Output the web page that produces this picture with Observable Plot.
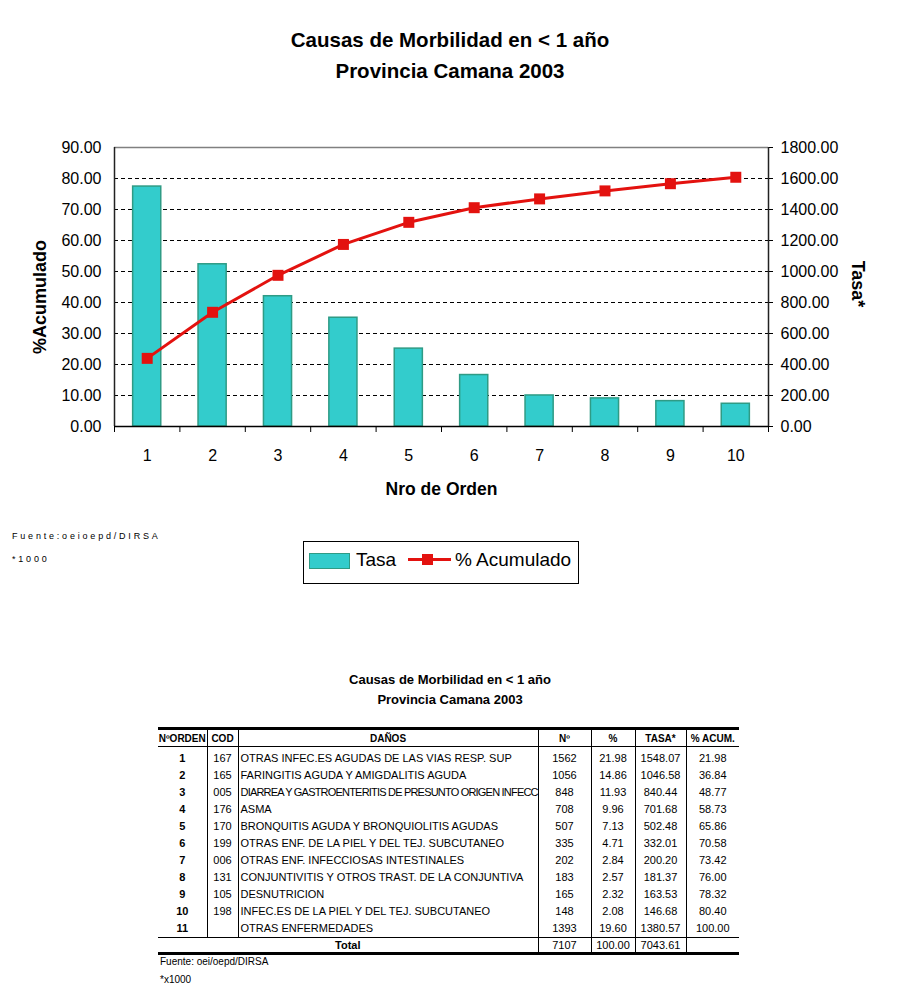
<!DOCTYPE html>
<html>
<head>
<meta charset="utf-8">
<script src="https://cdn.jsdelivr.net/npm/d3@7"></script>
<script src="https://cdn.jsdelivr.net/npm/@observablehq/plot@0.6"></script>
<style>
  html, body { margin: 0; padding: 0; background: #fff; }
  body { position: relative; width: 900px; height: 1000px; font-family: "Liberation Sans", Arial, sans-serif; color: #000; overflow: hidden; }
  .abs { position: absolute; }
  .title { left: 0; width: 900px; text-align: center; font-weight: bold; font-size: 20.5px; line-height: 20px; }
  #chart { left: 0; top: 110px; }
  .note { font-size: 9px; letter-spacing: 2.8px; left: 12px; line-height: 12px; }
  #legend { left: 303px; top: 541px; width: 276px; height: 43px; border: 1px solid #000; box-sizing: border-box; }
  #legend .sw { position: absolute; left: 5px; top: 11px; width: 41px; height: 16px; background: #33CCCC; border: 1.5px solid #2F9B85; box-sizing: border-box; }
  #legend .lbl { position: absolute; top: 7px; font-size: 19px; line-height: 22px; }
  #legend .ln { position: absolute; left: 104px; top: 16px; width: 43px; height: 3px; background: #E3120F; }
  #legend .sq { position: absolute; left: 118px; top: 12px; width: 11px; height: 11px; background: #E3120F; }
  .ttitle { left: 0; width: 900px; text-align: center; font-weight: bold; font-size: 13px; line-height: 16px; }
  #tbl { left: 158px; top: 727px; }
  table { border-collapse: collapse; table-layout: fixed; font-size: 11px; }
  th { font-weight: bold; font-size: 10px; height: 16px; padding: 0; border-top: 3px solid #000; border-bottom: 1px solid #000; text-align: center; }
  td { padding: 0; height: 17px; line-height: 17px; text-align: center; white-space: nowrap; overflow: hidden; }
  th + th, td + td { border-left: 1px solid #000; }
  td.dn { text-align: left; padding-left: 2px; }
  td.ord { font-weight: bold; }
  tr.first td { padding-top: 3px; }
  tr.total td { border-top: 1px solid #000; border-bottom: 3px solid #000; height: 14px; line-height: 14px; }
  tr.total td.tl { font-weight: bold; }
  .src { left: 160px; font-size: 10px; line-height: 12px; }
</style>
</head>
<body>
<div class="abs title" style="top:30px">Causas de Morbilidad en &lt; 1 año</div>
<div class="abs title" style="top:61px">Provincia Camana 2003</div>
<div id="chart" class="abs"></div>
<div class="abs note" style="top:530px">Fuente:oeioepd/DIRSA</div>
<div class="abs note" style="top:553px">*1000</div>
<div id="legend" class="abs">
  <div class="sw"></div>
  <div class="lbl" style="left:52px">Tasa</div>
  <div class="ln"></div>
  <div class="sq"></div>
  <div class="lbl" style="left:151px">% Acumulado</div>
</div>
<div class="abs ttitle" style="top:672px">Causas de Morbilidad en &lt; 1 año</div>
<div class="abs ttitle" style="top:692px">Provincia Camana 2003</div>
<div id="tbl" class="abs"></div>
<div class="abs src" style="top:956px">Fuente: oei/oepd/DIRSA</div>
<div class="abs src" style="top:974px">*x1000</div>
<script>
const orden = [1, 2, 3, 4, 5, 6, 7, 8, 9, 10, 11];
const cod = ["167", "165", "005", "176", "170", "199", "006", "131", "105", "198", ""];
const danos = [
  "OTRAS INFEC.ES AGUDAS DE LAS VIAS RESP. SUP",
  "FARINGITIS AGUDA Y AMIGDALITIS AGUDA",
  "DIARREA Y GASTROENTERITIS DE PRESUNTO ORIGEN INFECC",
  "ASMA",
  "BRONQUITIS AGUDA Y BRONQUIOLITIS AGUDAS",
  "OTRAS ENF. DE LA PIEL Y DEL TEJ. SUBCUTANEO",
  "OTRAS ENF. INFECCIOSAS INTESTINALES",
  "CONJUNTIVITIS Y OTROS TRAST. DE LA CONJUNTIVA",
  "DESNUTRICION",
  "INFEC.ES DE LA PIEL Y DEL TEJ. SUBCUTANEO",
  "OTRAS ENFERMEDADES"
];
const casos = [1562, 1056, 848, 708, 507, 335, 202, 183, 165, 148, 1393];
const pct = ["21.98", "14.86", "11.93", "9.96", "7.13", "4.71", "2.84", "2.57", "2.32", "2.08", "19.60"];
const tasa = [1548.07, 1046.58, 840.44, 701.68, 502.48, 332.01, 200.20, 181.37, 163.53, 146.68, 1380.57];
const acum = [21.98, 36.84, 48.77, 58.73, 65.86, 70.58, 73.42, 76.00, 78.32, 80.40, 100.00];
const totalCasos = 7107, totalPct = "100.00", totalTasa = "7043.61";

const leftTicks = [0, 10, 20, 30, 40, 50, 60, 70, 80, 90];
const rightTicks = [0, 200, 400, 600, 800, 1000, 1200, 1400, 1600, 1800];
const gridTicks = [10, 20, 30, 40, 50, 60, 70, 80];

// ---- Chart ----
const ratio = 1800 / 90;
const nChart = 10;
const chartData = orden.slice(0, nChart).map((o, i) => ({o, tasa: tasa[i], acum: acum[i]}));
const boundaries = d3.range(0.5, nChart + 1, 1);
const red = "#E3120F";

const plot = Plot.plot({
  width: 900,
  height: 410,
  marginTop: 37,
  marginBottom: 94,
  marginLeft: 114,
  marginRight: 132,
  style: {fontFamily: '"Liberation Sans", Arial, sans-serif', background: "transparent", overflow: "visible", color: "#000"},
  x: {type: "linear", domain: [0.5, nChart + 0.5]},
  y: {domain: [0, 90]},
  marks: [
    Plot.ruleY(gridTicks, {stroke: "#000", strokeWidth: 1, strokeDasharray: "4,3"}),
    Plot.ruleY([90], {stroke: "#808080", strokeWidth: 1.5}),
    Plot.rectY(chartData, {x1: d => d.o - 0.215, x2: d => d.o + 0.215, y1: 0, y2: d => d.tasa / ratio,
      fill: "#33CCCC", stroke: "#2F9B85", strokeWidth: 1.5}),
    Plot.ruleX([0.5], {stroke: "#222", strokeWidth: 1.5}),
    Plot.ruleX([nChart + 0.5], {stroke: "#222", strokeWidth: 1.5}),
    Plot.ruleY([0], {stroke: "#000", strokeWidth: 1.5}),
    Plot.axisX(boundaries, {tickSize: 6, tickFormat: () => "", label: null, stroke: "#000"}),
    Plot.axisX(orden.slice(0, nChart), {tickSize: 0, tickPadding: 23, fontSize: 16, label: null}),
    Plot.axisY(leftTicks, {anchor: "left", tickSize: 0, tickPadding: 13, fontSize: 16, label: null,
      tickFormat: d => d.toFixed(2)}),
    Plot.axisY(rightTicks.map(t => t / ratio), {anchor: "right", tickSize: 4, tickPadding: 8, fontSize: 16, label: null,
      tickFormat: d => (d * ratio).toFixed(2)}),
    Plot.line(chartData, {x: "o", y: "acum", stroke: red, strokeWidth: 3}),
    Plot.dot(chartData, {x: "o", y: "acum", symbol: "square", fill: red, r: 6.2}),
    Plot.text(["Nro de Orden"], {frameAnchor: "bottom", dy: 68, fontSize: 17.5, fontWeight: "bold", textAnchor: "middle"}),
    Plot.text(["%Acumulado"], {frameAnchor: "left", dx: -74, dy: 10, rotate: -90, fontSize: 18, fontWeight: "bold", textAnchor: "middle"}),
    Plot.text(["Tasa*"], {frameAnchor: "right", dx: 89, dy: -3, rotate: 90, fontSize: 18, fontWeight: "bold", textAnchor: "middle"})
  ]
});
document.getElementById("chart").appendChild(plot);

// ---- Table ----
const widths = [49, 31, 300, 53, 44, 51, 53];
const headers = ["NºORDEN", "COD", "DAÑOS", "Nº", "%", "TASA*", "% ACUM."];
const table = d3.select("#tbl").append("table").style("width", d3.sum(widths) + "px");
table.append("colgroup").selectAll("col").data(widths).join("col").style("width", d => d + "px");
table.append("thead").append("tr").selectAll("th").data(headers).join("th").text(d => d);
const tbody = table.append("tbody");
orden.forEach((o, i) => {
  const tr = tbody.append("tr").attr("class", i === 0 ? "first" : null);
  tr.append("td").attr("class", "ord").text(o);
  tr.append("td").text(cod[i]);
  tr.append("td").attr("class", "dn").text(danos[i]);
  tr.append("td").text(casos[i]);
  tr.append("td").text(pct[i]);
  tr.append("td").text(tasa[i].toFixed(2));
  tr.append("td").text(acum[i].toFixed(2));
});
const tt = tbody.append("tr").attr("class", "total");
tt.append("td").attr("colspan", 3).attr("class", "tl").text("Total");
tt.append("td").text(totalCasos);
tt.append("td").text(totalPct);
tt.append("td").text(totalTasa);
tt.append("td").text("");

// shrink any description that would overflow its column
table.selectAll("td.dn").each(function() {
  let ls = 0;
  while (this.scrollWidth > this.clientWidth && ls > -1.2) {
    ls -= 0.1;
    this.style.letterSpacing = ls + "px";
  }
});
</script>
</body>
</html>
